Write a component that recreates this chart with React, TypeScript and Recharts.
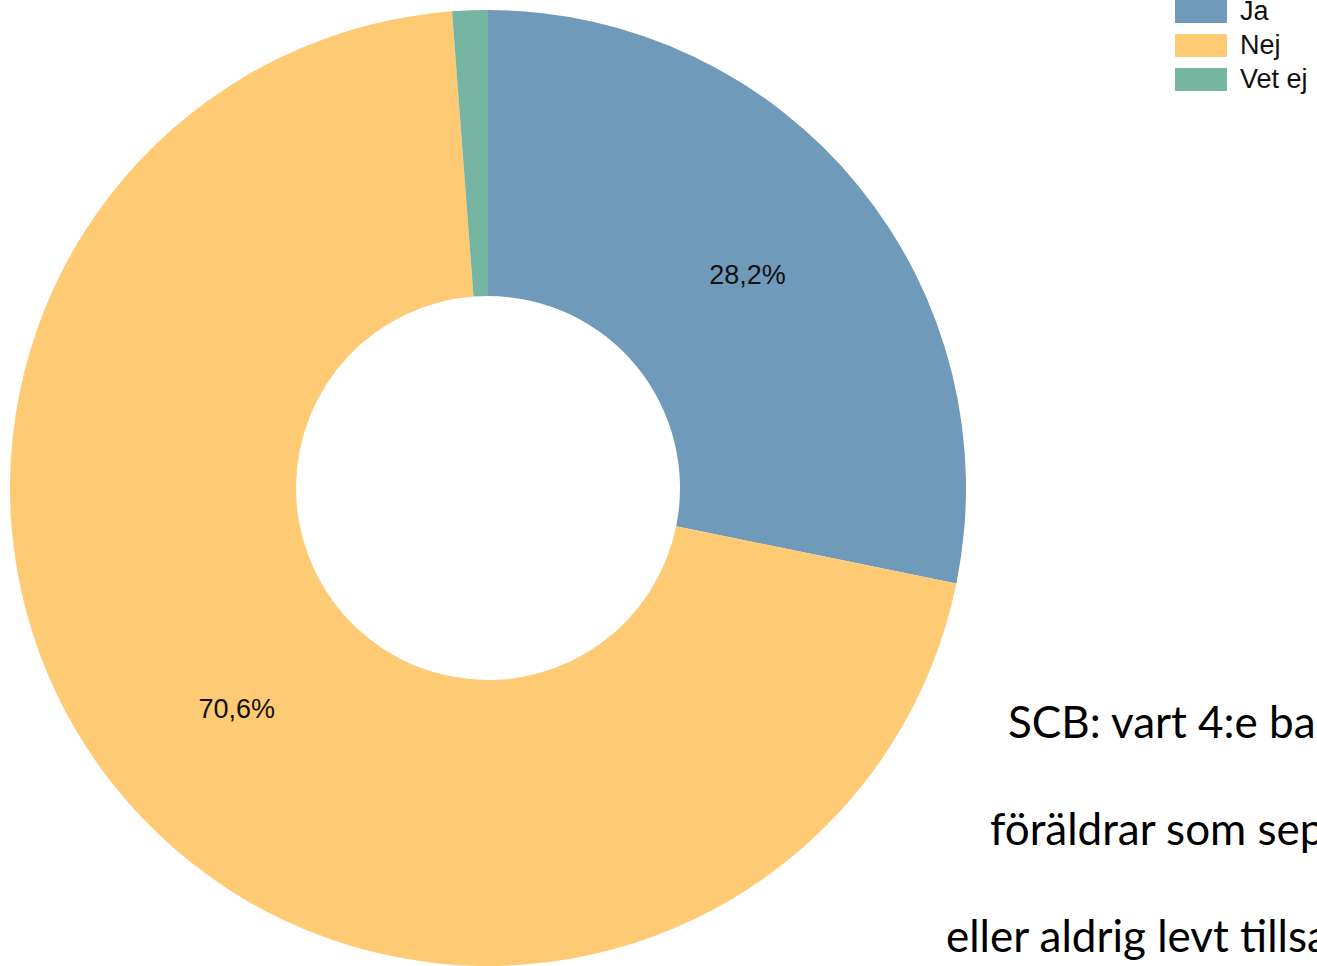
import { Cell, Legend, Pie, PieChart } from "recharts"

const categories = ["Ja", "Nej", "Vet ej"]
const shares = [28.2, 70.6, 1.2]
const colors = ["#6f9aba", "#fecb74", "#76b5a2"]
const noteLines = ["SCB: vart 4:e barn har", "föräldrar som separerat", "eller aldrig levt tillsammans"]

const data = categories.map((name, i) => ({ name, value: shares[i] }))

const RADIAN = Math.PI / 180

function renderLabel(props: any) {
  const { cx, cy, midAngle, innerRadius, outerRadius, value } = props
  if (value < 5) return null
  const r = (innerRadius + outerRadius) / 2
  const x = cx + r * Math.cos(-midAngle * RADIAN)
  const y = cy + r * Math.sin(-midAngle * RADIAN)
  return (
    <text
      x={x}
      y={y - 1}
      textAnchor="middle"
      dominantBaseline="central"
      fill="#111"
      fontSize={27}
      fontFamily="'Liberation Sans', Arial, sans-serif"
    >
      {value.toFixed(1).replace(".", ",") + "%"}
    </text>
  )
}

function LegendBox(props: any) {
  const items = props.payload || []
  return (
    <div style={{ fontFamily: "'Liberation Sans', Arial, sans-serif", fontSize: 27, color: "#111" }}>
      {items.map((it: any) => (
        <div key={it.value} style={{ display: "flex", alignItems: "center", height: 34 }}>
          <span style={{ width: 52, height: 23, background: it.color, marginRight: 13 }} />
          <span>{it.value}</span>
        </div>
      ))}
    </div>
  )
}

export default function App() {
  return (
    <div
      style={{
        position: "absolute",
        left: 0,
        top: 0,
        width: 1317,
        height: 966,
        overflow: "hidden",
        background: "#fff",
      }}
    >
      <PieChart width={1317} height={966} margin={{ top: 0, right: 0, bottom: 0, left: 0 }}>
        <Pie
          data={data}
          dataKey="value"
          nameKey="name"
          cx={488}
          cy={488}
          innerRadius={192}
          outerRadius={478}
          startAngle={90}
          endAngle={-270}
          stroke="none"
          label={renderLabel}
          labelLine={false}
          isAnimationActive={false}
        >
          {data.map((d, i) => (
            <Cell key={d.name} fill={colors[i]} />
          ))}
        </Pie>
        <Legend
          layout="vertical"
          align="right"
          verticalAlign="top"
          content={<LegendBox />}
          wrapperStyle={{ left: 1175, top: -6, width: 160 }}
        />
      </PieChart>
      {noteLines.map((line, i) => (
        <div
          key={line}
          style={{
            position: "absolute",
            left: [1008, 990, 946][i],
            top: 695 + i * 107,
            whiteSpace: "nowrap",
            fontFamily: "Lato, 'Open Sans', sans-serif",
            fontSize: 44,
            color: "#000",
            lineHeight: "52px",
          }}
        >
          {line}
        </div>
      ))}
    </div>
  )
}
